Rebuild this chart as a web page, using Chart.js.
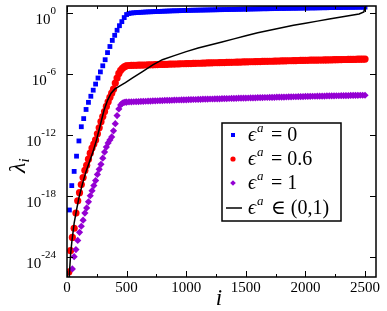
<!DOCTYPE html>
<html>
<head>
<meta charset="utf-8">
<script src="https://cdn.jsdelivr.net/npm/chart.js@4"></script>
<style>
  body { margin: 0; background: #fff; }
  #wrap { width: 387px; height: 311px; }
</style>
</head>
<body>
<div id="wrap"><canvas id="c" width="387" height="311"></canvas></div>
<script>
// index i of the markers: rising part (coarse for eps=0, finer for the others), then the plateau
const riseCoarse = [0, 20, 40, 60, 80, 100, 120, 140, 160, 180, 200, 220, 240, 260, 280, 300, 320, 340, 360, 380,
  400, 420, 440, 460, 480];
const riseFine = [
  0, 15, 30, 45, 60, 75, 90, 105, 120, 135,
  150, 165, 180, 195, 210, 225, 240, 255, 270, 285,
  300, 315, 330, 345, 360, 375, 390, 405, 420, 435,
  450, 465, 480, 495
];
const plateau = [
  500, 520, 540, 560, 580, 600, 620, 640, 660, 680,
  700, 720, 740, 760, 780, 800, 820, 840, 860, 880,
  900, 920, 940, 960, 980, 1000, 1020, 1040, 1060, 1080,
  1100, 1120, 1140, 1160, 1180, 1200, 1220, 1240, 1260, 1280,
  1300, 1320, 1340, 1360, 1380, 1400, 1420, 1440, 1460, 1480,
  1500, 1520, 1540, 1560, 1580, 1600, 1620, 1640, 1660, 1680,
  1700, 1720, 1740, 1760, 1780, 1800, 1820, 1840, 1860, 1880,
  1900, 1920, 1940, 1960, 1980, 2000, 2020, 2040, 2060, 2080,
  2100, 2120, 2140, 2160, 2180, 2200, 2220, 2240, 2260, 2280,
  2300, 2320, 2340, 2360, 2380, 2400, 2420, 2440, 2460, 2480,
  2500
];

// log10(lambda_i), eps^a = 0
const blueRise = [null, -19.4, -17.0, -15.6, -14.1, -12.6, -11.2, -10.4, -9.5, -8.8,
  -8.2, -7.6, -7.0, -6.4, -5.8, -5.2, -4.6, -3.9, -3.3, -2.7,
  -2.2, -1.7, -1.25, -0.85, -0.45];
const bluePlateau = [
  -0.15, -0.05, 0.0, 0.02, 0.04, 0.05, 0.07, 0.08, 0.1, 0.11,
  0.12, 0.13, 0.14, 0.15, 0.16, 0.17, 0.18, 0.19, 0.2, 0.21,
  0.22, 0.22, 0.23, 0.24, 0.25, 0.25, 0.26, 0.27, 0.27, 0.28,
  0.28, 0.29, 0.29, 0.3, 0.3, 0.31, 0.31, 0.32, 0.32, 0.33,
  0.33, 0.34, 0.34, 0.35, 0.35, 0.36, 0.36, 0.37, 0.37, 0.38,
  0.38, 0.39, 0.39, 0.4, 0.4, 0.41, 0.41, 0.42, 0.42, 0.42,
  0.43, 0.43, 0.44, 0.44, 0.45, 0.45, 0.45, 0.46, 0.46, 0.47,
  0.47, 0.47, 0.48, 0.48, 0.49, 0.49, 0.49, 0.5, 0.5, 0.5,
  0.51, 0.51, 0.52, 0.52, 0.52, 0.53, 0.53, 0.53, 0.54, 0.54,
  0.54, 0.55, 0.55, 0.55, 0.56, 0.56, 0.56, 0.57, 0.57, 0.57,
  0.58
];

// eps^a = 0.6
const redRise = [
  null, -25.5, -23.4, -22.1, -21.2, -19.7, -18.5, -17.7, -16.9, -16.2,
  -15.5, -15.0, -14.4, -13.8, -13.3, -12.9, -12.5, -11.9, -11.3, -10.7,
  -10.2, -9.7, -9.2, -8.75, -8.3, -7.9, -7.5, -6.9, -6.4, -5.95,
  -5.65, -5.45, -5.3, -5.22
];
const redPlateau = [
  -5.2, -5.17, -5.16, -5.15, -5.15, -5.14, -5.14, -5.13, -5.12, -5.11,
  -5.1, -5.1, -5.09, -5.08, -5.07, -5.06, -5.06, -5.05, -5.04, -5.03,
  -5.03, -5.02, -5.01, -5.0, -5.0, -4.99, -4.98, -4.98, -4.97, -4.96,
  -4.95, -4.95, -4.94, -4.93, -4.92, -4.92, -4.91, -4.9, -4.9, -4.89,
  -4.88, -4.88, -4.87, -4.86, -4.86, -4.85, -4.84, -4.84, -4.83, -4.82,
  -4.82, -4.81, -4.8, -4.8, -4.79, -4.78, -4.78, -4.77, -4.76, -4.76,
  -4.75, -4.75, -4.74, -4.73, -4.73, -4.72, -4.72, -4.71, -4.7, -4.7,
  -4.69, -4.69, -4.68, -4.67, -4.67, -4.66, -4.66, -4.65, -4.65, -4.64,
  -4.64, -4.63, -4.63, -4.62, -4.62, -4.61, -4.61, -4.6, -4.6, -4.59,
  -4.59, -4.58, -4.58, -4.57, -4.57, -4.56, -4.56, -4.55, -4.55, -4.55,
  -4.54
];

// eps^a = 1
const purpleRise = [
  null, null, -26.3, -25.2, -24.0, -23.3, -22.4, -21.6, -21.0, -20.4,
  -19.7, -19.2, -18.6, -18.0, -17.5, -17.0, -16.5, -15.9, -15.4, -14.9,
  -14.3, -13.7, -13.2, -12.8, -12.5, -12.2, -11.6, -10.9, -10.1, -9.45,
  -9.05, -8.87, -8.8, -8.78
];
const purplePlateau = [
  -8.78, -8.76, -8.75, -8.74, -8.73, -8.72, -8.71, -8.7, -8.69, -8.68,
  -8.67, -8.66, -8.65, -8.64, -8.63, -8.62, -8.61, -8.6, -8.6, -8.59,
  -8.58, -8.57, -8.57, -8.56, -8.55, -8.55, -8.54, -8.53, -8.52, -8.52,
  -8.51, -8.5, -8.49, -8.49, -8.48, -8.47, -8.47, -8.46, -8.45, -8.45,
  -8.44, -8.43, -8.43, -8.42, -8.41, -8.41, -8.4, -8.39, -8.39, -8.38,
  -8.38, -8.37, -8.36, -8.36, -8.35, -8.34, -8.34, -8.33, -8.32, -8.32,
  -8.31, -8.31, -8.3, -8.29, -8.29, -8.28, -8.28, -8.27, -8.26, -8.26,
  -8.25, -8.25, -8.24, -8.23, -8.23, -8.22, -8.22, -8.21, -8.2, -8.2,
  -8.19, -8.19, -8.18, -8.18, -8.17, -8.17, -8.16, -8.16, -8.15, -8.15,
  -8.14, -8.14, -8.13, -8.13, -8.12, -8.12, -8.11, -8.11, -8.1, -8.1,
  -8.1
];

// eps^a in (0,1), solid line
const blackSteps = [0, 10, 20, 30, 40, 60, 80, 100, 130, 160, 190, 220, 250, 280, 310, 340, 370, 400, 440, 490,
  550, 630, 720, 800, 900, 1000, 1100, 1200, 1300, 1400, 1500, 1600, 1700, 1800, 1900, 2000, 2100, 2200, 2300, 2400,
  2450, 2490, 2500];
const blackExp = [-40, -30, -25.7, -23.8, -22.6, -20.7, -19.4, -18.2, -16.8, -15.6, -14.6, -13.6, -12.4, -11.0, -9.6, -8.6, -7.9, -7.5, -7.2, -6.85,
  -6.4, -5.8, -5.1, -4.6, -4.2, -3.8, -3.45, -3.15, -2.85, -2.55, -2.25, -1.95, -1.7, -1.45, -1.2, -1.0, -0.8, -0.6, -0.4, -0.2,
  -0.1, 0.1, 0.6];

const xTicks = [0, 500, 1000, 1500, 2000, 2500];
const xMinor = [250, 750, 1250, 1750, 2250];
const yTickExp = [0, -6, -12, -18, -24];
const legendText = ['= 0', '= 0.6', '= 1', '\u2208 (0,1)'];

const BLUE = '#0000ff', RED = '#ff0000', VIOLET = '#9400d3';
const SERIF = '"Liberation Serif", "DejaVu Serif", serif';

function toPoints(xs, exps) {
  const out = [];
  xs.forEach((x, k) => { if (exps[k] != null) out.push({ x: x, y: Math.pow(10, exps[k]) }); });
  return out;
}

// frame, inward ticks, tick labels, titles and the legend
const decor = {
  id: 'decor',
  afterDraw(chart) {
    const { ctx, chartArea: a, scales: { x, y } } = chart;
    ctx.save();
    ctx.strokeStyle = '#000';
    ctx.lineWidth = 1;
    ctx.beginPath();
    xTicks.forEach(v => {
      const p = Math.round(x.getPixelForValue(v)) + 0.5;
      ctx.moveTo(p, a.bottom); ctx.lineTo(p, a.bottom - 6);
      ctx.moveTo(p, a.top); ctx.lineTo(p, a.top + 6);
    });
    xMinor.forEach(v => {
      const p = Math.round(x.getPixelForValue(v)) + 0.5;
      ctx.moveTo(p, a.bottom); ctx.lineTo(p, a.bottom - 3);
      ctx.moveTo(p, a.top); ctx.lineTo(p, a.top + 3);
    });
    yTickExp.forEach(e => {
      const p = Math.round(y.getPixelForValue(Math.pow(10, e))) + 0.5;
      ctx.moveTo(a.left, p); ctx.lineTo(a.left + 6, p);
      ctx.moveTo(a.right, p); ctx.lineTo(a.right - 6, p);
    });
    ctx.stroke();
    ctx.lineWidth = 1.5;
    ctx.strokeRect(a.left, a.top, a.right - a.left, a.bottom - a.top);

    ctx.fillStyle = '#000';
    ctx.textBaseline = 'alphabetic';
    ctx.font = '15px ' + SERIF;
    ctx.textAlign = 'center';
    xTicks.forEach(v => ctx.fillText(String(v), x.getPixelForValue(v), 292));

    ctx.textAlign = 'left';
    yTickExp.forEach(e => {
      const p = y.getPixelForValue(Math.pow(10, e));
      ctx.font = '11px ' + SERIF;
      const sup = String(e);
      const sw = ctx.measureText(sup).width;
      ctx.fillText(sup, 56 - sw, p + 1);
      ctx.font = '15px ' + SERIF;
      const bw = ctx.measureText('10').width;
      ctx.fillText('10', 56 - sw - bw, p + 11);
    });

    // x title
    ctx.font = 'italic 23px ' + SERIF;
    ctx.textAlign = 'center';
    ctx.fillText('i', 219, 305);

    // y title, rotated
    ctx.save();
    ctx.translate(25, 173);
    ctx.rotate(-Math.PI / 2);
    ctx.textAlign = 'left';
    ctx.font = 'italic 24px ' + SERIF;
    ctx.fillText('\u03bb', 0, 0);
    const lw = ctx.measureText('\u03bb').width;
    ctx.font = 'italic 15px ' + SERIF;
    ctx.fillText('i', lw, 4);
    ctx.restore();

    // legend
    const bx = 222, by = 123, bw2 = 119, bh = 98;
    ctx.fillStyle = '#fff';
    ctx.fillRect(bx, by, bw2, bh);
    ctx.lineWidth = 1.5;
    ctx.strokeRect(bx, by, bw2, bh);
    const rows = [135, 159, 183, 208];
    const mx = 233;
    ctx.fillStyle = BLUE;
    ctx.fillRect(mx - 2, rows[0] - 2, 4, 4);
    ctx.fillStyle = RED;
    ctx.beginPath(); ctx.arc(mx, rows[1], 2.6, 0, Math.PI * 2); ctx.fill();
    ctx.fillStyle = VIOLET;
    ctx.beginPath();
    ctx.moveTo(mx, rows[2] - 2.8); ctx.lineTo(mx + 2.8, rows[2]);
    ctx.lineTo(mx, rows[2] + 2.8); ctx.lineTo(mx - 2.8, rows[2]); ctx.closePath(); ctx.fill();
    ctx.strokeStyle = '#000';
    ctx.lineWidth = 1.5;
    ctx.beginPath(); ctx.moveTo(226, rows[3]); ctx.lineTo(242, rows[3]); ctx.stroke();

    ctx.fillStyle = '#000';
    ctx.textAlign = 'left';
    rows.forEach((ry, k) => {
      const base = ry + 6;
      ctx.font = 'italic 20px ' + SERIF;
      ctx.fillText('\u03f5', 248, base);
      ctx.font = 'italic 13px ' + SERIF;
      ctx.fillText('a', 257, base - 9);
      ctx.font = '20px ' + SERIF;
      ctx.fillText(legendText[k], 271, base);
    });
    ctx.restore();
  }
};

new Chart(document.getElementById('c'), {
  type: 'scatter',
  data: {
    datasets: [
      {
        label: 'eps0', order: 3, data: toPoints(riseCoarse, blueRise).concat(toPoints(plateau, bluePlateau)), showLine: false,
        pointStyle: 'rect', pointRadius: 3.4, backgroundColor: BLUE, borderWidth: 0
      },
      {
        label: 'eps06', order: 2, data: toPoints(riseFine, redRise).concat(toPoints(plateau, redPlateau)), showLine: false,
        pointStyle: 'circle', pointRadius: 3.6, backgroundColor: RED, borderWidth: 0
      },
      {
        label: 'eps1', order: 1, data: toPoints(riseFine, purpleRise).concat(toPoints(plateau, purplePlateau)), showLine: false,
        pointStyle: 'rectRot', pointRadius: 3.6, backgroundColor: VIOLET, borderWidth: 0
      },
      {
        // drawn on top of the markers
        label: 'range', order: 0, data: toPoints(blackSteps, blackExp), showLine: true,
        pointRadius: 0, borderColor: '#000', borderWidth: 1.5, tension: 0
      }
    ]
  },
  options: {
    responsive: false,
    animation: false,
    events: [],
    layout: { padding: { left: 0, top: 6, right: 11, bottom: 0 } },
    plugins: { legend: { display: false }, tooltip: { enabled: false } },
    scales: {
      x: {
        type: 'linear', min: 0, max: 2592,
        grid: { display: false }, border: { display: false },
        ticks: { display: false },
        afterFit(s) { s.height = 34; }
      },
      y: {
        type: 'logarithmic', min: 1e-26, max: Math.pow(10, 0.69),
        grid: { display: false }, border: { display: false },
        ticks: { display: false },
        afterFit(s) { s.width = 67; }
      }
    }
  },
  plugins: [decor]
});
</script>
</body>
</html>
